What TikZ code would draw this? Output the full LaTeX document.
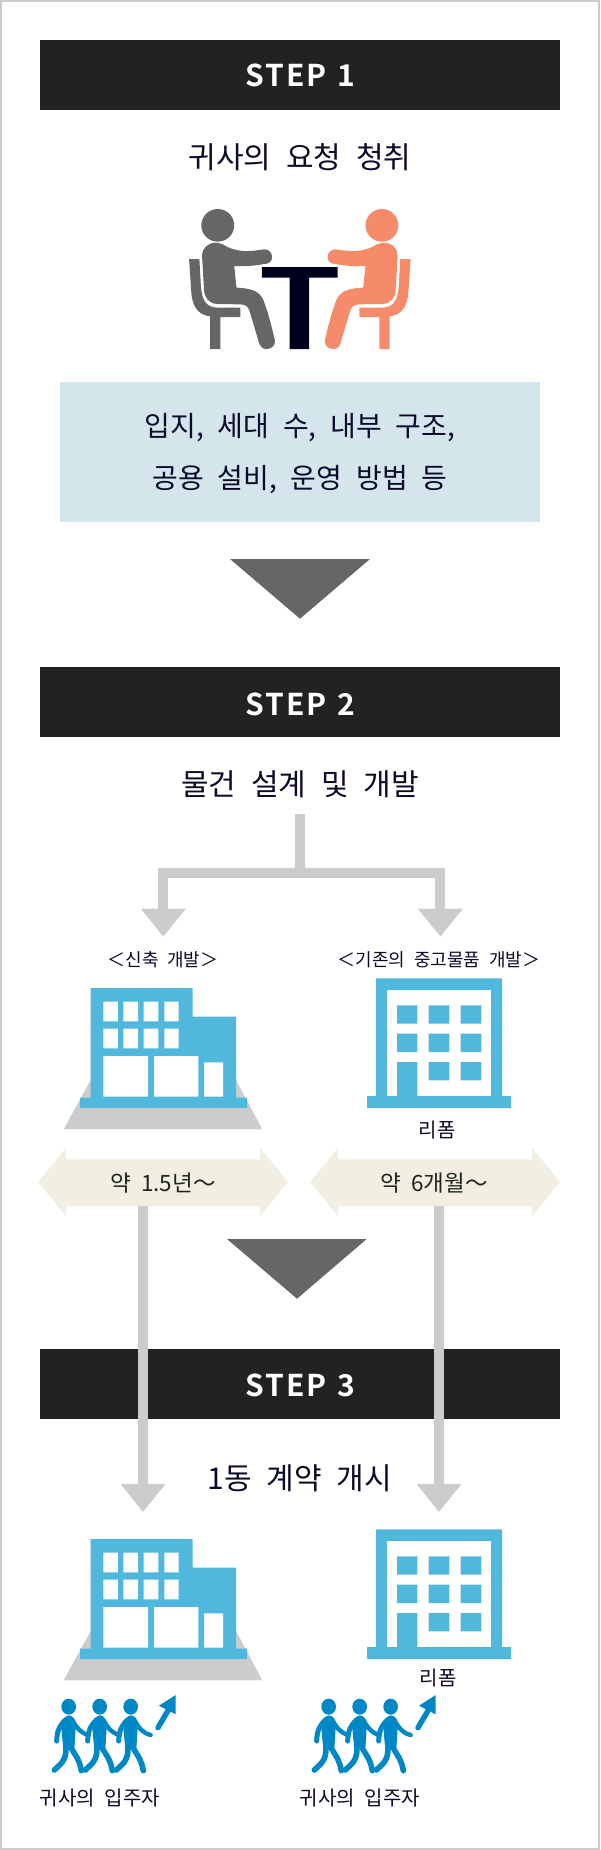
\documentclass[tikz,border=0pt]{standalone}
\usepackage{fontspec}
\usepackage{tikz}
\usetikzlibrary{arrows.meta}
\setmainfont[WordSpace=2.2]{Noto Sans CJK KR}
\newfontfamily\stepfont[LetterSpace=7,WordSpace=1.2]{Noto Sans CJK KR Bold}
\newfontfamily\spanfont[WordSpace=2]{Noto Sans CJK KR}
\definecolor{ink}{HTML}{0A0A2A}
\definecolor{barc}{HTML}{222222}
\definecolor{boxc}{HTML}{D5E5EC}
\definecolor{tric}{HTML}{666666}
\definecolor{polec}{HTML}{CCCCCC}
\definecolor{arrc}{HTML}{F0EFE2}
\definecolor{bldc}{HTML}{50B8DC}
\definecolor{orangec}{HTML}{F58B6B}
\definecolor{tablec}{HTML}{00001E}
\definecolor{walkc}{HTML}{0088C6}
\newcommand{\fsz}[1]{\fontsize{#1}{#1}\selectfont}
\tikzset{
  stepbar/.style={fill=barc,draw=none,minimum width=520pt,minimum height=70pt,inner sep=0pt},
  steptext/.style={inner sep=0pt,text=white,font=\stepfont\fsz{30}},
  lead/.style={text=ink,inner sep=0pt,font=\fsz{30}},
  boxline/.style={text=ink,inner sep=0pt,font=\fsz{28}},
  small/.style={text=ink,inner sep=0pt,font=\fsz{20}},
  tiny/.style={text=ink,inner sep=0pt,font=\fsz{18}},
  span/.style={text=barc,inner sep=0pt,font=\spanfont\fsz{22.5}},
  pole/.style={draw=polec,line width=10pt,line cap=butt,line join=miter},
  polearrow/.style={pole,-{Triangle[length=28pt,width=43pt]}},
  seated/.pic={
    \fill (569,226) ellipse [x radius=43,y radius=49];
    \fill (528,318) .. controls (528,292) and (545,278) .. (565,278)
      .. controls (585,278) and (590,298) .. (635,303)
      .. controls (650,304) and (670,302) .. (690,298)
      .. controls (704,297) and (711,310) .. (711,322)
      .. controls (711,334) and (702,342) .. (690,342)
      .. controls (665,348) and (640,349) .. (612,348)
      -- (618,413)
      .. controls (660,415) and (678,425) .. (688,450)
      .. controls (700,485) and (710,530) .. (718,570)
      .. controls (721,585) and (710,597) .. (697,597)
      .. controls (687,597) and (681,592) .. (678,583)
      -- (654,490)
      .. controls (650,472) and (645,464) .. (628,463)
      -- (568,462)
      .. controls (545,460) and (535,445) .. (533,420) -- cycle;
    \fill (494,327) -- (521,327) -- (525,410)
      .. controls (528,450) and (538,473) .. (570,473)
      -- (628,473) -- (628,501) -- (576,501) -- (576,597) -- (549,597) -- (549,499)
      .. controls (515,495) and (503,465) .. (500,430) -- cycle;
  },
  newbuild/.pic={
    \fill[polec] (90.7,1080) -- (63.7,1129.3) -- (262.3,1129.3) -- (236,1080) -- cycle;
    \fill[bldc] (90.7,988) -- (192.7,988) -- (192.7,1016.7) -- (236,1016.7) -- (236,1097.7) -- (247,1097.7) -- (247,1108) -- (80,1108) -- (80,1097.7) -- (90.7,1097.7) -- cycle;
    \fill[white]
      (103.3,1001.7) rectangle +(14.5,19.7) (123.3,1001.7) rectangle +(14.7,19.7) (143.7,1001.7) rectangle +(14.7,19.7) (164.3,1001.7) rectangle +(14.4,19.7)
      (103.3,1028.7) rectangle +(14.5,19.7) (123.3,1028.7) rectangle +(14.7,19.7) (143.7,1028.7) rectangle +(14.7,19.7) (164.3,1028.7) rectangle +(14.4,19.7)
      (103.3,1056) rectangle (148,1096.7) (154,1056) rectangle (198.3,1096.7) (204,1062.3) rectangle (223,1096.7);
  },
  oldbuild/.pic={
    \fill[bldc] (376,978.3) rectangle (502,1100) (367,1096) rectangle (511,1108);
    \fill[white] (387,990) rectangle (491,1096);
    \fill[bldc]
      (397,1005.3) rectangle (417.3,1023.7) (428.7,1005.3) rectangle (449.3,1023.7) (460.7,1005.3) rectangle (481.3,1023.7)
      (397,1033.7) rectangle (417.3,1052) (428.7,1033.7) rectangle (449.3,1052) (460.7,1033.7) rectangle (481.3,1052)
      (397,1062) rectangle (417.3,1100) (428.7,1062) rectangle (449.3,1080.3) (460.7,1062) rectangle (481.3,1080.3);
  },
  walker/.pic={
    \fill[walkc] (116,80) ellipse [x radius=22,y radius=24];
    \fill[walkc] (116,106) .. controls (126,106) and (134,116) .. (138,128) -- (133,208) -- (100,208) -- (93,135) .. controls (100,118) and (108,106) .. (116,106) -- cycle;
    \draw[walkc,line width=5pt,line cap=round] (108,118) .. controls (90,135) and (81,150) .. (80,183);
    \draw[walkc,line width=4.4pt,line cap=round] (124,116) .. controls (142,145) and (150,158) .. (176,165);
    \draw[walkc,line width=5.6pt,line cap=round] (108,205) .. controls (108,240) and (95,250) .. (73,270);
    \draw[walkc,line width=5.6pt,line cap=round] (124,205) .. controls (142,235) and (148,240) .. (154,272);
  },
  walkgroup/.pic={
    \pic[transform shape] at (0,0) {walker};
    \pic[transform shape] at (93,0) {walker};
    \pic[transform shape] at (186,0) {walker};
    \draw[walkc,line width=5.4pt,line cap=round] (384,143) -- (418,85);
    \fill[walkc] (437,45) -- (387,77) -- (437,103) -- cycle;
  }
}
\begin{document}
\begin{tikzpicture}[x=1pt,y=-1pt]
\useasboundingbox (0,0) rectangle (600,1850);
\fill[white] (0,0) rectangle (600,1850);
\draw[polec,line width=2pt] (1,1) rectangle (599,1849);

% bars
\node[stepbar] (s1) at (300,75) {};
\node[stepbar] (s2) at (300,702) {};
\node[stepbar] (s3) at (300,1383.5) {};
\node[steptext] (s1t) at (300,75) {STEP 1};
\node[steptext] (s2t) at (300,704) {STEP 2};
\node[steptext] (s3t) at (300,1385) {STEP 3};

% step 1
\node[lead] (t1) at (300,157) {귀사의 요청 청취};
\pic[tric,xscale=1/2.613,yscale=1/3] at (0,150) {seated};
\pic[orangec,xscale=-1/2.613,yscale=1/3] at (599.7,150) {seated};
\begin{scope}[shift={(0,150)},xscale=1/2.613,yscale=1/3]
  \fill[tablec] (684,351) rectangle (882,383) (757,351) rectangle (808,597);
\end{scope}
\fill[boxc] (60,382) rectangle (540,522);
\node[boxline] (b1) at (300,428) {입지, 세대 수, 내부 구조,};
\node[boxline] (b2) at (300,479.5) {공용 설비, 운영 방법 등};
\fill[tric] (230,559) -- (370,559) -- (300,618.7) -- cycle;

% step 2
\node[lead] (t2) at (300,784) {물건 설계 및 개발};
\coordinate (trunk) at (300.3,813.7);
\coordinate (junc) at (300.3,872.7);
\coordinate (tipL) at (163.4,936.7);
\coordinate (tipR) at (440.4,936.7);
\draw[pole] (trunk) -- (junc);
\draw[polearrow] (junc) -| (tipL);
\draw[polearrow] (junc) -| (tipR);
\node[tiny] (l1) at (163,959.5) {＜신축 개발＞};
\node[tiny] (l2) at (439,959.5) {＜기존의 중고물품 개발＞};
\pic at (0,0) {newbuild};
\pic at (0,0) {oldbuild};
\node[small] (r1) at (437,1130) {리폼};

% duration arrows
\fill[arrc] (38,1182) -- (66,1148) -- (66,1159.3) -- (260,1159.3) -- (260,1148) -- (288,1182) -- (260,1216) -- (260,1206) -- (66,1206) -- (66,1216) -- cycle;
\fill[arrc] (310,1182) -- (338,1148) -- (338,1159.3) -- (532,1159.3) -- (532,1148) -- (560,1182) -- (532,1216) -- (532,1206) -- (338,1206) -- (338,1216) -- cycle;
\node[span] (d1) at (163,1183) {약 1.5년〜};
\node[span] (d2) at (434,1183) {약 6개월〜};
\fill[tric] (227,1239) -- (366.7,1239) -- (297,1298.7) -- cycle;

% step 3
\coordinate (p1a) at (143,1206);
\coordinate (p1b) at (143,1512);
\coordinate (p2a) at (439,1206);
\coordinate (p2b) at (439,1512);
\draw[polearrow] (p1a) -- (p1b);
\draw[polearrow] (p2a) -- (p2b);
\node[lead] (t3) at (300,1478.5) {1동 계약 개시};
\pic at (0,551) {newbuild};
\pic at (0,551) {oldbuild};
\node[small] (r2) at (438,1678) {리폼};
\pic[scale=1/3] at (30,1680) {walkgroup};
\pic[scale=1/3] at (290,1680) {walkgroup};
\node[small] (c1) at (100,1798) {귀사의 입주자};
\node[small] (c2) at (360,1798) {귀사의 입주자};
\end{tikzpicture}
\end{document}
